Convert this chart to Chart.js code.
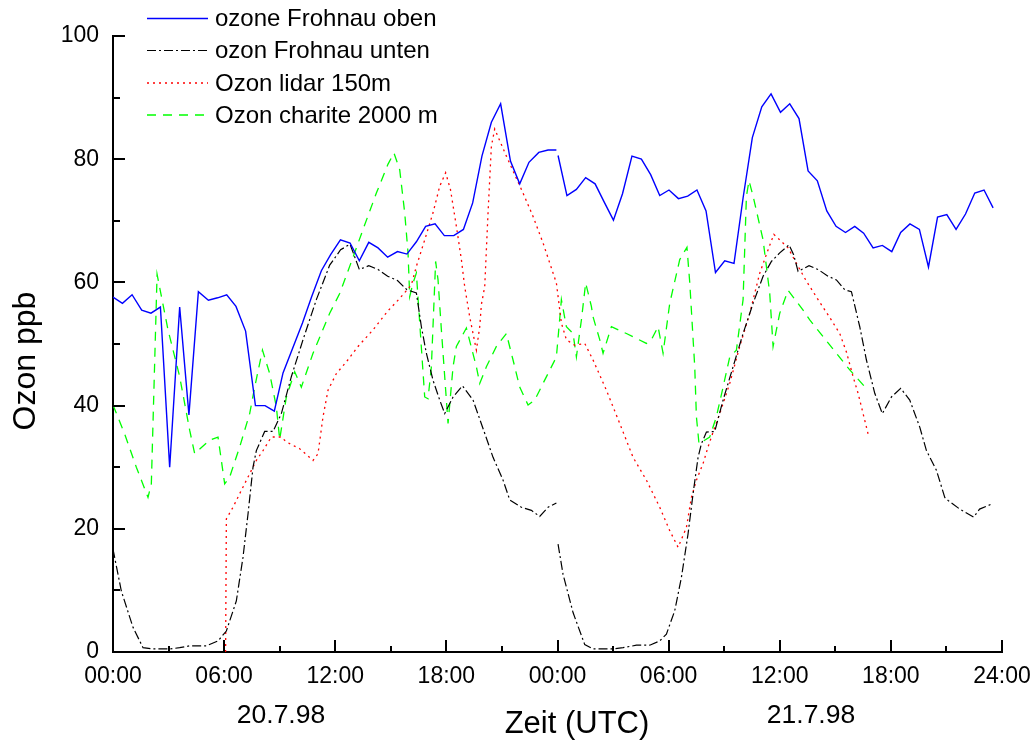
<!DOCTYPE html>
<html>
<head>
<meta charset="utf-8">
<script src="https://cdn.jsdelivr.net/npm/chart.js@4/dist/chart.umd.min.js"></script>
<style>
html,body{margin:0;padding:0;background:#fff;}
#wrap{width:1033px;height:742px;}
</style>
</head>
<body>
<div id="wrap"><canvas id="c" width="1033" height="742"></canvas></div>
<script>
// ---- data (hours since 20.7.98 00:00 UTC, ozone ppb) ----
const xTickLabels = ["00:00","06:00","12:00","18:00","00:00","06:00","12:00","18:00","24:00"];
const dateLabels = ["20.7.98","21.7.98"];
const seriesNames = ["ozone Frohnau oben","ozon Frohnau unten","Ozon lidar 150m","Ozon charite 2000 m"];

const frohnauObenT = [0,0.51,1.03,1.55,2.05,2.56,3.06,3.6,4.1,4.61,5.15,5.65,6.14,6.64,7.16,7.69,8.21,8.71,9.18,10.23,10.73,11.25,11.75,12.28,12.8,13.3,13.81,14.31,14.83,15.36,15.87,16.38,16.88,17.39,17.89,18.4,18.92,19.42,19.92,20.43,20.93,21.46,21.96,22.46,22.99,23.49,23.94,23.98,
  24.03,24.51,25.02,25.52,26.03,26.53,27.02,27.51,28.02,28.53,29.03,29.52,30.02,30.53,31.03,31.53,32.02,32.53,33.03,33.53,34.02,34.52,35.03,35.53,36.04,36.54,37.04,37.53,38.03,38.54,39.04,39.55,40.05,40.53,41.04,41.54,42.05,42.53,43.03,43.54,44.03,44.52,45.02,45.52,46.03,46.53,47.03,47.52];
const frohnauObenV = [57.6,56.6,58.0,55.5,55.0,56.0,30.0,56.0,38.5,58.5,57.1,57.5,58.0,56.1,52.1,40.0,40.0,39.1,45.3,53.4,57.7,61.9,64.5,66.9,66.4,63.5,66.5,65.6,64.1,65.0,64.6,66.6,69.1,69.5,67.6,67.6,68.6,72.9,80.5,86.0,89.0,79.7,76.0,79.5,81.1,81.5,81.5,null,
  80.6,74.1,75.1,77.0,76.0,73.0,70.1,74.4,80.5,80.0,77.5,74.1,75.0,73.6,74.0,75.0,71.6,61.6,63.5,63.1,73.7,83.5,88.5,90.6,87.6,89.0,86.6,78.1,76.5,71.6,69.1,68.1,69.1,68.0,65.6,66.0,65.0,68.1,69.5,68.6,62.5,70.6,71.0,68.6,71.1,74.5,75.0,72.1];

const frohnauUntenT = [0,0.45,1.08,1.62,2.16,3.06,3.6,4.14,5.04,5.67,6.12,6.66,7.02,7.29,7.56,7.74,8.19,8.64,9.09,9.63,10.26,10.98,11.7,12.29,12.8,13.3,13.81,14.31,14.83,15.36,15.87,16.38,16.65,16.92,17.28,17.64,17.91,18.36,18.87,19.44,20.07,20.52,21.06,21.42,22.05,22.59,23.04,23.49,23.94,23.98,
  24.03,24.3,24.84,25.47,25.92,27.0,27.54,28.26,28.98,29.52,29.88,30.33,30.69,31.05,31.32,31.59,31.77,32.04,32.49,32.94,33.48,34.02,34.56,35.1,35.55,36.0,36.5,36.75,36.99,37.58,38.07,38.61,39.06,39.51,39.87,40.32,40.68,41.13,41.54,42.03,42.53,43.02,43.56,43.92,44.46,44.91,45.09,45.72,46.47,46.79,47.43];
const frohnauUntenV = [16.7,9.9,4.0,0.7,0.5,0.5,0.7,1.0,1.0,1.8,3.4,8.3,15.4,22.4,30.0,32.7,35.8,35.8,38.7,44.7,50.7,57.2,62.8,65.3,66.2,62.1,62.7,62.1,61.0,60.3,58.8,58.3,52.8,48.5,44.1,40.9,38.7,41.4,43.2,40.9,35.5,31.6,27.9,24.7,23.5,23.0,22.0,23.5,24.2,null,
  17.5,12.6,6.4,1.2,0.5,0.5,0.7,1.1,1.1,1.8,2.9,6.7,12.1,19.2,25.7,31.6,33.8,35.7,35.8,40.9,46.3,51.7,56.6,61.0,63.4,64.8,66.1,64.5,61.8,62.7,62.1,61.0,60.4,58.8,58.5,52.8,47.4,42.0,38.7,41.4,42.8,40.9,36.5,32.7,29.5,25.1,24.6,23.2,21.9,23.2,24.0];

const lidarT = [6.08,6.12,6.48,6.84,7.29,7.74,8.1,8.55,9.09,9.36,10.08,10.8,11.07,11.34,11.61,12.06,12.6,13.23,14.04,14.85,15.48,16.11,16.38,16.83,17.28,17.64,17.96,18.22,18.54,18.81,18.99,19.26,19.62,19.8,19.89,20.07,20.25,20.43,20.61,20.88,21.24,21.69,22.14,22.68,23.22,23.94,24.21,24.48,24.93,25.47,25.92,26.64,27.36,28.08,28.8,29.52,30.06,30.51,30.96,31.23,31.5,31.86,32.13,32.4,32.76,33.3,33.84,34.38,34.92,35.37,35.68,36.0,36.45,36.9,37.44,38.07,38.7,39.24,39.6,39.96,40.23,40.5,40.77];
const lidarV = [0,21.6,23.5,25.7,28.4,31.1,32.7,34.9,34.9,34.1,33.0,31.1,32.2,38.2,42.5,45.2,47.1,49.6,52.3,55.4,57.4,59.6,62.6,66.9,71.3,75.6,77.8,75.1,69.1,63.7,59.3,54.4,49.0,52.8,56.4,59.3,71.3,82.1,84.9,83.0,80.5,77.5,74.5,70.7,66.4,59.9,53.4,50.7,49.8,50.1,47.4,42.5,37.1,31.6,27.9,23.5,19.7,17.0,20.2,25.1,27.9,30.6,33.3,35.7,38.7,43.6,49.6,55.0,61.5,65.3,67.8,66.9,65.6,63.1,60.2,57.2,54.3,51.7,48.7,44.7,42.0,38.7,35.4];

const chariteT = [0,0.63,1.26,1.89,2.07,2.38,2.97,3.6,4.14,4.41,5.22,5.67,6.03,6.3,6.84,7.38,7.65,8.07,8.46,8.82,9.0,9.36,9.81,10.17,10.8,11.7,12.24,12.78,13.5,14.22,14.85,15.17,15.48,15.75,15.93,16.02,16.2,16.38,16.83,17.01,17.19,17.42,17.55,17.73,18.0,18.09,18.36,18.54,19.08,19.62,19.8,20.16,20.7,21.24,21.6,21.96,22.41,22.77,23.22,23.94,24.21,24.48,24.84,25.02,25.29,25.52,25.83,25.92,26.28,26.46,26.91,27.72,28.8,29.07,29.43,29.7,30.06,30.6,30.99,31.14,31.41,31.5,31.64,32.22,32.58,32.94,33.3,33.66,34.02,34.2,34.34,34.56,35.1,35.46,35.64,36.0,36.45,37.26,37.62,38.34,39.06,39.78,40.55];
const chariteV = [40.1,35.4,30.0,25.1,27.3,61.3,52.3,44.7,36.0,32.2,34.4,34.9,27.3,28.4,33.3,38.7,43.0,49.0,45.2,39.8,34.5,41.4,45.5,43.0,48.5,55.0,58.2,62.6,68.6,74.5,79.2,81.0,78.3,71.3,64.8,57.7,59.9,61.5,41.4,41.1,46.3,63.4,60.4,52.3,40.9,37.1,46.3,49.6,52.6,46.3,43.6,46.3,49.6,51.7,47.4,43.0,40.1,40.9,43.6,47.9,57.2,52.8,51.7,47.9,53.9,59.9,56.1,54.4,50.7,48.5,52.8,51.7,50.1,50.7,52.8,48.5,56.6,63.7,65.7,60.0,46.3,38.2,33.8,34.9,38.2,43.0,47.9,49.0,57.2,74.0,76.5,74.0,66.9,58.2,49.6,55.0,58.7,55.5,53.9,51.2,48.5,45.8,43.2];

function pts(t, v){ return t.map((x,i)=>({x:x, y:v[i]})); }

const FONT = "'Liberation Sans', Arial, sans-serif";

const datasets = [
  {label: seriesNames[0], data: pts(frohnauObenT, frohnauObenV), borderColor:'#0000ff', borderWidth:1.4, borderDash:[]},
  {label: seriesNames[1], data: pts(frohnauUntenT, frohnauUntenV), borderColor:'#000000', borderWidth:1.2, borderDash:[9,3,2,3]},
  {label: seriesNames[2], data: pts(lidarT, lidarV), borderColor:'#ff0000', borderWidth:1.3, borderDash:[2,4]},
  {label: seriesNames[3], data: pts(chariteT, chariteV), borderColor:'#00ff00', borderWidth:1.3, borderDash:[9,7]}
].map(d => Object.assign(d, {pointRadius:0, tension:0, fill:false, spanGaps:false}));

const decor = {
  id: 'decor',
  afterDraw(chart){
    const ctx = chart.ctx;
    const xs = chart.scales.x, ys = chart.scales.y;
    const ca = chart.chartArea;
    ctx.save();
    // inward ticks
    ctx.strokeStyle = '#000';
    ctx.lineWidth = 2;
    for (let h = 0; h <= 48; h += 3) {
      const px = Math.round(xs.getPixelForValue(h));
      const len = (h % 6 === 0) ? 12 : 6;
      ctx.beginPath(); ctx.moveTo(px, ca.bottom); ctx.lineTo(px, ca.bottom - len); ctx.stroke();
    }
    for (let v = 0; v <= 100; v += 10) {
      const py = Math.round(ys.getPixelForValue(v));
      const len = (v % 20 === 0) ? 12 : 7;
      ctx.beginPath(); ctx.moveTo(ca.left, py); ctx.lineTo(ca.left + len, py); ctx.stroke();
    }
    // date labels and axis titles
    ctx.fillStyle = '#000';
    ctx.textAlign = 'center';
    ctx.textBaseline = 'middle';
    ctx.font = '26.5px ' + FONT;
    ctx.fillText(dateLabels[0], 281, 716);
    ctx.fillText(dateLabels[1], 811, 716);
    ctx.font = '31px ' + FONT;
    ctx.fillText('Zeit (UTC)', 577, 724);
    ctx.save();
    ctx.font = '32px ' + FONT;
    ctx.translate(26, 361);
    ctx.rotate(-Math.PI/2);
    ctx.fillText('Ozon ppb', 0, 0);
    ctx.restore();
    // legend
    const rows = [18.5, 50.5, 83, 115];
    ctx.font = '24px ' + FONT;
    ctx.textAlign = 'left';
    chart.data.datasets.forEach((ds, i) => {
      const y = rows[i];
      ctx.strokeStyle = ds.borderColor;
      ctx.lineWidth = ds.borderWidth;
      ctx.setLineDash(ds.borderDash);
      ctx.beginPath(); ctx.moveTo(147, y); ctx.lineTo(208, y); ctx.stroke();
      ctx.setLineDash([]);
      ctx.fillStyle = '#000';
      ctx.fillText(ds.label, 215, y + 1);
    });
    ctx.restore();
  }
};

new Chart(document.getElementById('c'), {
  type: 'line',
  data: { datasets },
  options: {
    responsive: false,
    animation: false,
    devicePixelRatio: 1,
    layout: { padding: { top: 36, right: 31, left: 0, bottom: 0 } },
    plugins: { legend: { display: false }, tooltip: { enabled: false } },
    scales: {
      x: {
        type: 'linear', min: 0, max: 48,
        afterBuildTicks(s){ s.ticks = [0,6,12,18,24,30,36,42,48].map(v=>({value:v})); },
        ticks: {
          autoSkip: false, maxRotation: 0, padding: 11, color: '#000',
          font: { family: FONT, size: 23 },
          callback: (v) => xTickLabels[Math.round(v/6)]
        },
        grid: { drawOnChartArea: false, drawTicks: false },
        border: { display: true, color: '#000', width: 2 },
        afterFit(s){ s.height = 90; s.paddingLeft = 0; s.paddingRight = 0; }
      },
      y: {
        min: 0, max: 100,
        ticks: { stepSize: 20, padding: 14, color: '#000', font: { family: FONT, size: 23 } },
        grid: { drawOnChartArea: false, drawTicks: false },
        border: { display: true, color: '#000', width: 2 },
        afterFit(s){ s.width = 113; s.paddingTop = 0; s.paddingBottom = 0; }
      }
    }
  },
  plugins: [decor]
});
</script>
</body>
</html>
